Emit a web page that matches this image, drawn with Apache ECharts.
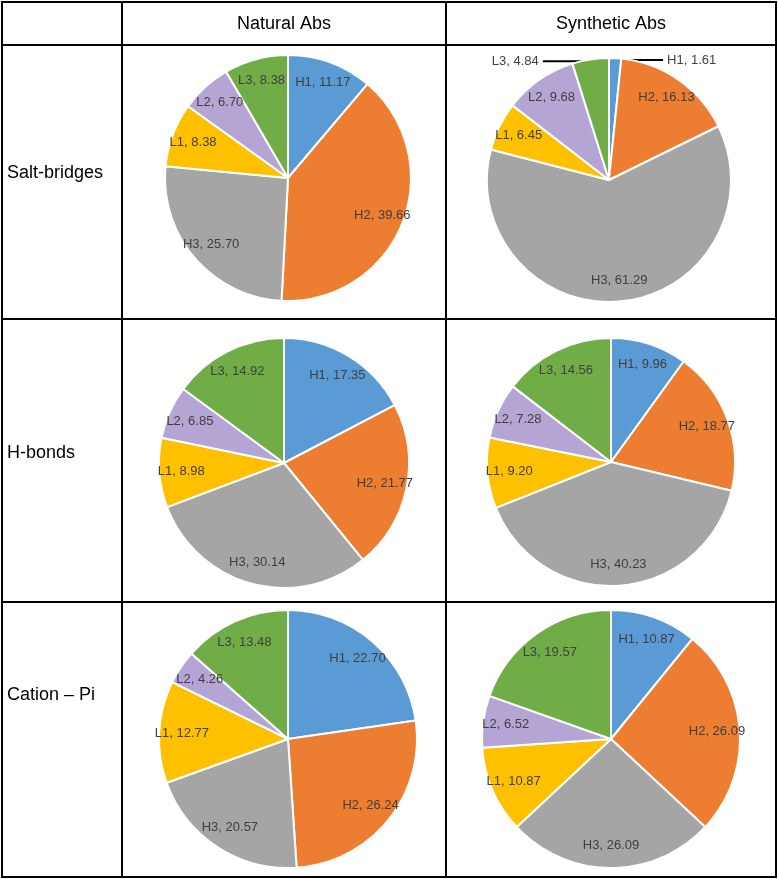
<!DOCTYPE html>
<html>
<head>
<meta charset="utf-8">
<script src="https://cdn.jsdelivr.net/npm/echarts@6/dist/echarts.min.js"></script>
<style>
html,body{margin:0;padding:0;background:#fff;}
#chart{width:778px;height:879px;}
</style>
</head>
<body>
<div id="chart"></div>
<script>
// ---- data ----
const categories = ['H1', 'H2', 'H3', 'L1', 'L2', 'L3'];
const columnTitles = ['Natural Abs', 'Synthetic Abs'];
const rowTitles = ['Salt-bridges', 'H-bonds', 'Cation \u2013 Pi'];
const naturalSaltBridges = [11.17, 39.66, 25.70, 8.38, 6.70, 8.38];
const syntheticSaltBridges = [1.61, 16.13, 61.29, 6.45, 9.68, 4.84];
const naturalHBonds = [17.35, 21.77, 30.14, 8.98, 6.85, 14.92];
const syntheticHBonds = [9.96, 18.77, 40.23, 9.20, 7.28, 14.56];
const naturalCationPi = [22.70, 26.24, 20.57, 12.77, 4.26, 13.48];
const syntheticCationPi = [10.87, 26.09, 26.09, 10.87, 6.52, 19.57];
const outsideLabelled = ['H1', 'L3']; // small slices in Synthetic salt-bridges with leader lines

// ---- layout / style ----
const colors = ['#5B9BD5', '#ED7D31', '#A5A5A5', '#FFC000', '#B4A5D5', '#70AD47'];
const labelColor = '#404040';
const labelFont = 'Liberation Sans';
const cells = [
  {values: naturalSaltBridges,   center: [288, 178], r: 123, outside: false},
  {values: syntheticSaltBridges, center: [609, 180], r: 122, outside: true},
  {values: naturalHBonds,        center: [284, 463], r: 125, outside: false},
  {values: syntheticHBonds,      center: [611, 462], r: 124, outside: false},
  {values: naturalCationPi,      center: [288, 739], r: 129, outside: false},
  {values: syntheticCationPi,    center: [611, 739], r: 129, outside: false}
];
const fmt = p => p.name + ', ' + Number(p.value).toFixed(2);

const series = [];
cells.forEach(cell => {
  // visible pie
  series.push({
    type: 'pie',
    center: cell.center,
    radius: cell.r,
    startAngle: 90,
    clockwise: true,
    silent: true,
    animation: false,
    avoidLabelOverlap: false,
    label: {show: false},
    labelLine: {show: false},
    itemStyle: {borderColor: '#ffffff', borderWidth: 2},
    data: categories.map((c, i) => ({name: c, value: cell.values[i], itemStyle: {color: colors[i]}}))
  });
  // transparent ring carrying the inside labels at ~0.8 r
  series.push({
    type: 'pie',
    center: cell.center,
    radius: [cell.r * 0.6, cell.r],
    startAngle: 90,
    clockwise: true,
    silent: true,
    animation: false,
    avoidLabelOverlap: false,
    itemStyle: {color: 'rgba(0,0,0,0)', borderWidth: 0},
    label: {show: true, position: 'inside', formatter: fmt, color: labelColor,
            fontFamily: labelFont, fontSize: 13, textBorderWidth: 0},
    labelLine: {show: false},
    data: categories.map((c, i) => ({
      name: c, value: cell.values[i],
      label: {show: !(cell.outside && outsideLabelled.includes(c))}
    }))
  });
  if (cell.outside) {
    // leader-line labels for the thin slices
    series.push({
      type: 'pie',
      center: cell.center,
      radius: cell.r * 0.87,
      startAngle: 90,
      clockwise: true,
      silent: true,
      animation: false,
      avoidLabelOverlap: false,
      itemStyle: {color: 'rgba(0,0,0,0)', borderWidth: 0},
      label: {show: false, position: 'outside', formatter: fmt, color: labelColor,
              fontFamily: labelFont, fontSize: 13, distanceToLabelLine: 4},
      labelLine: {show: true, length: 14, length2: 48, smooth: false,
                  lineStyle: {color: '#000000', width: 2}},
      data: categories.map((c, i) => ({
        name: c, value: cell.values[i],
        label: {show: outsideLabelled.includes(c)},
        labelLine: {show: outsideLabelled.includes(c)}
      }))
    });
  }
});

// ---- table grid and texts ----
const xs = [2, 122, 446, 776];
const ys = [2, 45, 319, 602, 877];
const graphics = [];
xs.forEach(x => graphics.push({type: 'line', silent: true, z: 100,
  shape: {x1: x, y1: ys[0] - 1, x2: x, y2: ys[ys.length - 1] + 1},
  style: {stroke: '#000', lineWidth: 2}}));
ys.forEach(y => graphics.push({type: 'line', silent: true, z: 100,
  shape: {x1: xs[0] - 1, y1: y, x2: xs[xs.length - 1] + 1, y2: y},
  style: {stroke: '#000', lineWidth: 2}}));
columnTitles.forEach((t, i) => graphics.push({type: 'text', silent: true, z: 100,
  x: (xs[i + 1] + xs[i + 2]) / 2, y: (ys[0] + ys[1]) / 2 + 1,
  style: {text: t, fill: '#000', font: '18px "Liberation Sans"', align: 'center', verticalAlign: 'middle'}}));
const rowLabelY = [173, 453, 695];
rowTitles.forEach((t, i) => graphics.push({type: 'text', silent: true, z: 100,
  x: 7, y: rowLabelY[i],
  style: {text: t, fill: '#000', font: '18px "Liberation Sans"', align: 'left', verticalAlign: 'middle'}}));

const chart = echarts.init(document.getElementById('chart'));
chart.setOption({
  animation: false,
  backgroundColor: '#ffffff',
  series: series,
  graphic: graphics
});
</script>
</body>
</html>
